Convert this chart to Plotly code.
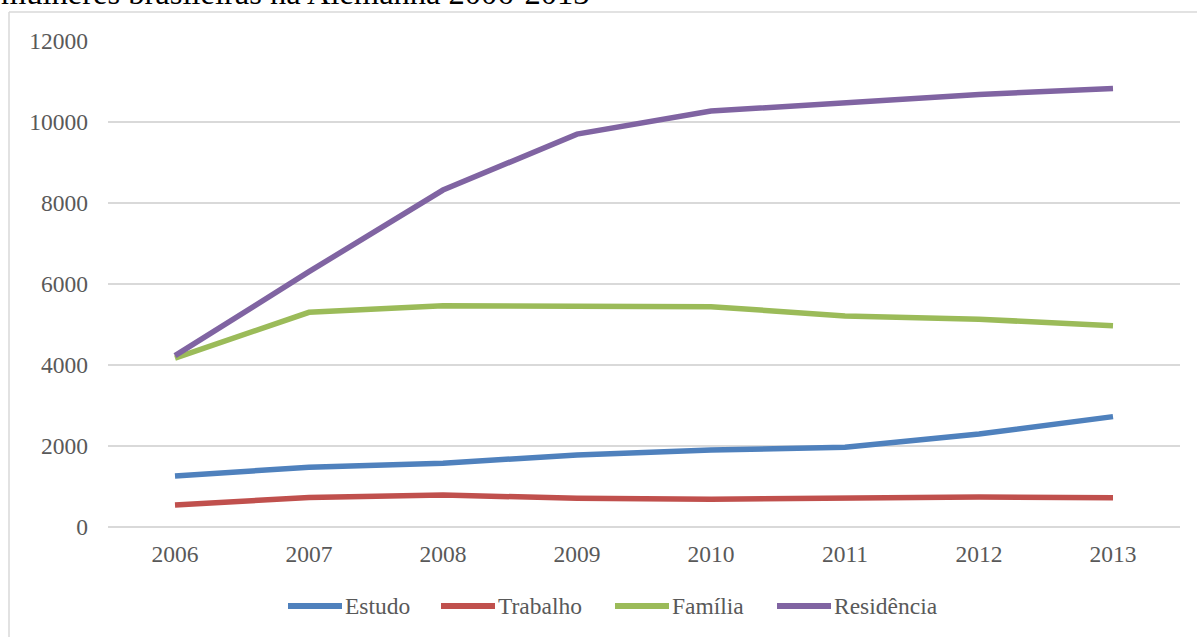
import plotly.graph_objects as go

# Mulheres brasileiras na Alemanha por motivo de permanência, 2006-2013
anos = ["2006", "2007", "2008", "2009", "2010", "2011", "2012", "2013"]
estudo = [1260, 1475, 1575, 1780, 1900, 1970, 2295, 2725]
trabalho = [545, 730, 790, 710, 685, 710, 740, 725]
familia = [4170, 5300, 5465, 5465, 5440, 5210, 5130, 4970]
residencia = [4230, 6305, 8320, 9700, 10270, 10465, 10680, 10830]

y_ticks = [0, 2000, 4000, 6000, 8000, 10000, 12000]

series = [
    ("Estudo", estudo, "#4F81BD"),
    ("Trabalho", trabalho, "#C0504D"),
    ("Família", familia, "#9BBB59"),
    ("Residência", residencia, "#8064A2"),
]

# page geometry (px)
W, H = 1197, 637
ML, MR, MT, MB = 108, 17, 41, 110
PW, PH = W - ML - MR, H - MT - MB


def px_x(px):
    return (px - ML) / PW


def px_y(py):
    return (H - MB - py) / PH


font_serif = "Liberation Serif"
fs = 23.5

fig = go.Figure()
for nome, valores, cor in series:
    fig.add_trace(go.Scatter(
        x=anos, y=valores, name=nome, mode="lines",
        line=dict(color=cor, width=5.5),
        showlegend=False,
    ))

# legend drawn below the plot: long key line + label for each series
legend_key_start = [288, 441, 615, 777]
legend_key_len = 54
legend_y = 606
shapes = []
annotations = []
for (nome, _, cor), x0 in zip(series, legend_key_start):
    shapes.append(dict(
        type="line", xref="paper", yref="paper",
        x0=px_x(x0), x1=px_x(x0 + legend_key_len),
        y0=px_y(legend_y), y1=px_y(legend_y),
        line=dict(color=cor, width=6),
    ))
    annotations.append(dict(
        text=nome, xref="paper", yref="paper",
        x=px_x(x0 + legend_key_len + 1), y=px_y(legend_y),
        xanchor="left", yanchor="middle", showarrow=False,
        font=dict(family=font_serif, size=fs, color="#595959"),
    ))

# outer chart frame
shapes += [
    dict(type="line", xref="paper", yref="paper",
         x0=px_x(9), x1=px_x(W + 5), y0=px_y(12), y1=px_y(12),
         line=dict(color="#D9D9D9", width=1.5)),
    dict(type="line", xref="paper", yref="paper",
         x0=px_x(9), x1=px_x(9), y0=px_y(12), y1=px_y(H + 5),
         line=dict(color="#D9D9D9", width=1.5)),
]

annotations.append(dict(
    text="mulheres brasileiras na Alemanha 2006-2013",
    xref="paper", yref="paper", x=px_x(-1), y=px_y(13),
    xanchor="left", yanchor="bottom", showarrow=False,
    font=dict(family=font_serif, size=32.5, color="black"),
))

fig.update_layout(
    width=W, height=H,
    margin=dict(l=ML, r=MR, t=MT, b=MB, autoexpand=False),
    paper_bgcolor="white", plot_bgcolor="white",
    font=dict(family=font_serif, size=fs, color="#595959"),
    showlegend=False,
    xaxis=dict(
        type="category", range=[-0.5, 7.5], showgrid=False, zeroline=False,
        showline=False, ticks="", ticklabelstandoff=10,
        tickfont=dict(family=font_serif, size=fs, color="#595959"),
    ),
    yaxis=dict(
        range=[0, 12000], tickvals=y_ticks, ticktext=[str(v) for v in y_ticks],
        showgrid=True, gridcolor="#D9D9D9", gridwidth=1.5,
        zeroline=True, zerolinecolor="#D9D9D9", zerolinewidth=1.5,
        showline=False, ticks="", ticklabelstandoff=19,
        tickfont=dict(family=font_serif, size=fs, color="#595959"),
    ),
    shapes=shapes,
    annotations=annotations,
)

fig.write_html("out.html")
